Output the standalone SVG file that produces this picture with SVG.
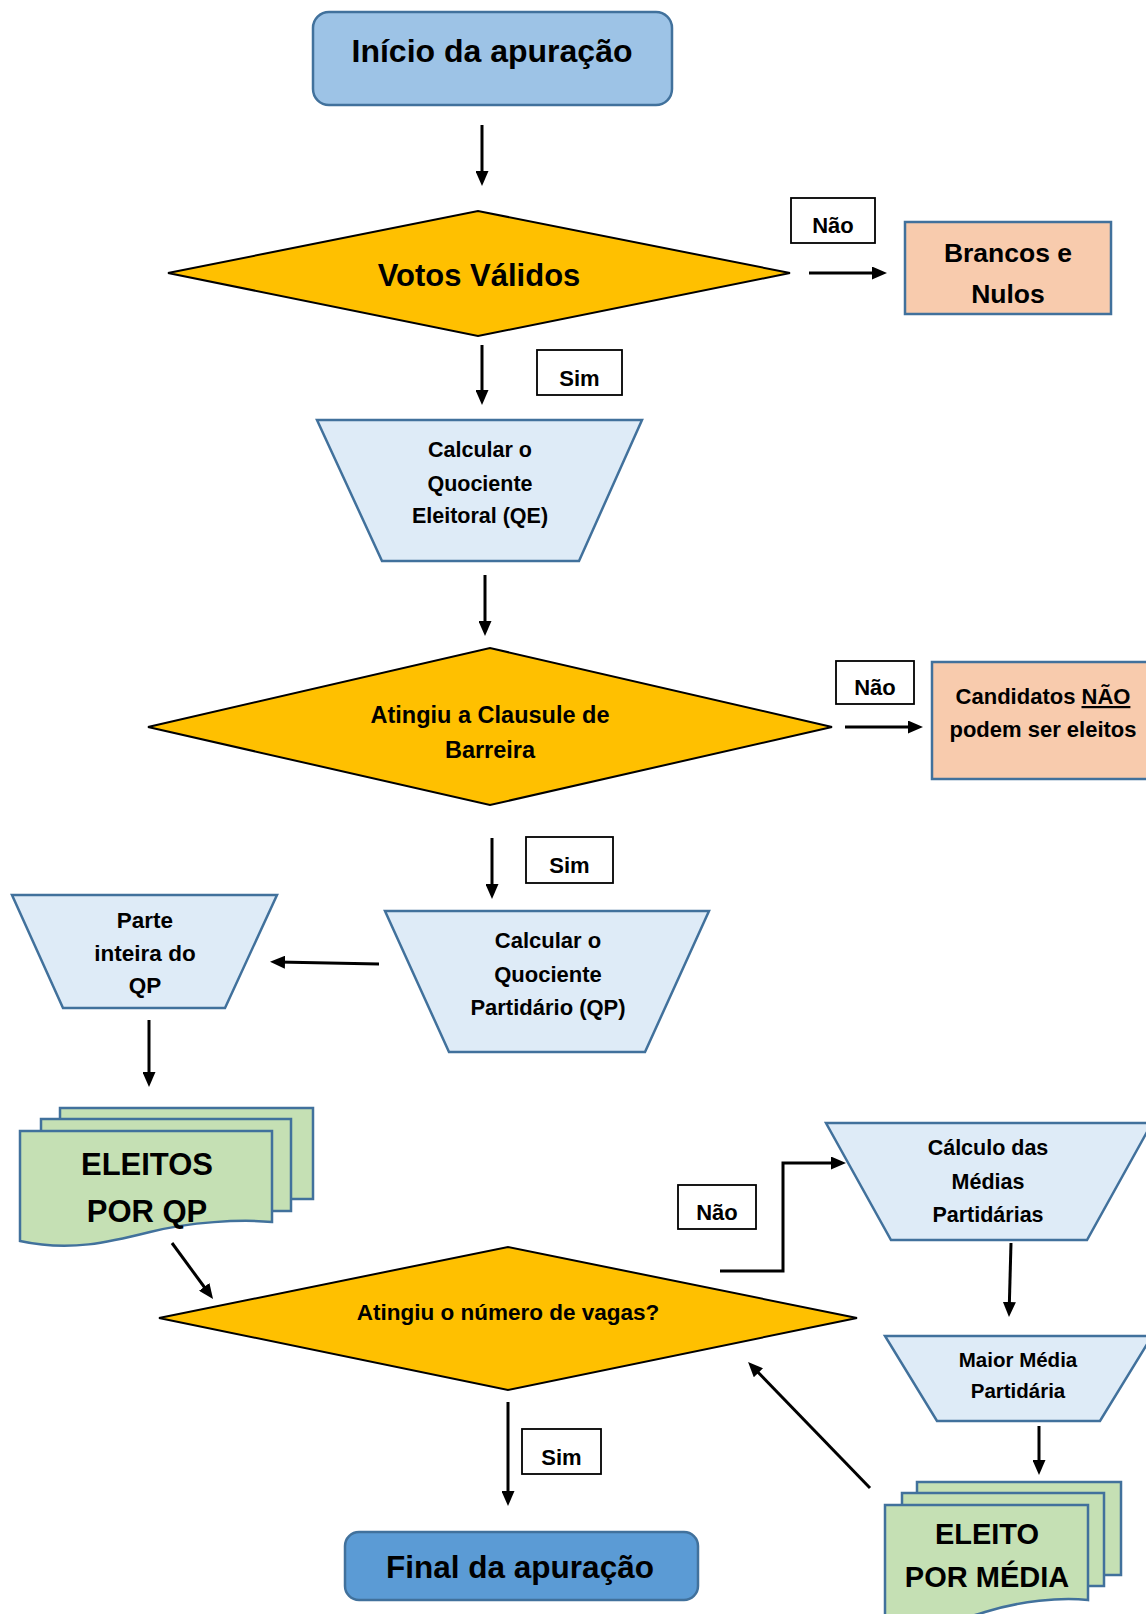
<svg xmlns="http://www.w3.org/2000/svg" width="1146" height="1614" viewBox="0 0 1146 1614">
<style>
text{font-family:"Liberation Sans",Arial,sans-serif;font-weight:bold;fill:#000;text-anchor:middle}
.term1{fill:#9DC3E6;stroke:#41719C;stroke-width:2.5}
.term2{fill:#5B9BD5;stroke:#41719C;stroke-width:2.5}
.dec{fill:#FFC000;stroke:#000;stroke-width:2}
.trap{fill:#DEEBF7;stroke:#41719C;stroke-width:2.5}
.out{fill:#F8CBAD;stroke:#41719C;stroke-width:2.5}
.doc{fill:#C5E0B4;stroke:#41719C;stroke-width:2.5}
.lbl{fill:#fff;stroke:#000;stroke-width:1.8}
.conn{fill:none;stroke:#000;stroke-width:3}
</style>
<defs>
<marker id="ah" markerUnits="userSpaceOnUse" markerWidth="15" markerHeight="13" refX="7" refY="6.5" orient="auto">
<path d="M0,0 L15,6.5 L0,13 Z" fill="#000"/>
</marker>
</defs>
<rect width="1146" height="1614" fill="#fff"/>

<g id="inicio">
<rect class="term1" x="313" y="12" width="359" height="93" rx="16"/>
<text x="492" y="62" font-size="32">Início da apuração</text>
</g>

<g id="votos-validos">
<polygon class="dec" points="168,273 478,211 790,273 478,336"/>
<text x="479" y="286" font-size="31">Votos Válidos</text>
</g>

<g id="brancos-nulos">
<rect class="out" x="905" y="222" width="206" height="92"/>
<text x="1008" y="262" font-size="26.5">Brancos e</text>
<text x="1008" y="303" font-size="26.5">Nulos</text>
</g>

<g id="calc-qe">
<polygon class="trap" points="317,420 642,420 579,561 382,561"/>
<text x="480" y="457" font-size="21.5">Calcular o</text>
<text x="480" y="491" font-size="21.5">Quociente</text>
<text x="480" y="523" font-size="21.5">Eleitoral (QE)</text>
</g>

<g id="clausula-barreira">
<polygon class="dec" points="148,727 490,648 832,727 490,805"/>
<text x="490" y="723" font-size="23.5">Atingiu a Clausule de</text>
<text x="490" y="758" font-size="23.5">Barreira</text>
</g>

<g id="candidatos-nao">
<rect class="out" x="932" y="662" width="220" height="117"/>
<text x="1043" y="704" font-size="22">Candidatos <tspan style="text-decoration:underline">NÃO</tspan></text>
<text x="1043" y="737" font-size="22">podem ser eleitos</text>
</g>

<g id="calc-qp">
<polygon class="trap" points="385,911 709,911 645,1052 449,1052"/>
<text x="548" y="948" font-size="22">Calcular o</text>
<text x="548" y="982" font-size="22">Quociente</text>
<text x="548" y="1015" font-size="22">Partidário (QP)</text>
</g>

<g id="parte-inteira">
<polygon class="trap" points="12,895 277,895 225,1008 63,1008"/>
<text x="145" y="928" font-size="22.5">Parte</text>
<text x="145" y="961" font-size="22.5">inteira do</text>
<text x="145" y="993" font-size="22.5">QP</text>
</g>

<g id="eleitos-qp">
<rect class="doc" x="60" y="1108" width="253" height="91"/>
<rect class="doc" x="41" y="1119" width="250" height="92"/>
<path class="doc" d="M20,1131 H272 V1222 C240,1219 190,1222 150,1232 C110,1242 70,1252 20,1241 Z"/>
<text x="147" y="1175" font-size="31">ELEITOS</text>
<text x="147" y="1222" font-size="31">POR QP</text>
</g>

<g id="numero-vagas">
<polygon class="dec" points="159,1318 508,1247 857,1318 508,1390"/>
<text x="508" y="1320" font-size="22.5">Atingiu o número de vagas?</text>
</g>

<g id="calc-medias">
<polygon class="trap" points="826,1123 1152,1123 1087,1240 891,1240"/>
<text x="988" y="1155" font-size="21.5">Cálculo das</text>
<text x="988" y="1189" font-size="21.5">Médias</text>
<text x="988" y="1222" font-size="21.5">Partidárias</text>
</g>

<g id="maior-media">
<polygon class="trap" points="885,1336 1152,1336 1100,1421 937,1421"/>
<text x="1018" y="1367" font-size="20.5">Maior Média</text>
<text x="1018" y="1398" font-size="20.5">Partidária</text>
</g>

<g id="eleito-media">
<rect class="doc" x="917" y="1482" width="204" height="93"/>
<rect class="doc" x="902" y="1493" width="202" height="93"/>
<path class="doc" d="M885,1505 H1088 V1600 C1060,1597 1020,1601 985,1612 C950,1623 915,1630 885,1626 Z"/>
<text x="987" y="1544" font-size="29">ELEITO</text>
<text x="987" y="1587" font-size="29">POR MÉDIA</text>
</g>

<g id="final">
<rect class="term2" x="345" y="1532" width="353" height="68" rx="14"/>
<text x="520" y="1578" font-size="31.5">Final da apuração</text>
</g>

<g id="labels">
<rect class="lbl" x="791" y="198" width="84" height="45"/>
<text x="833" y="233" font-size="22">Não</text>
<rect class="lbl" x="537" y="350" width="85" height="45"/>
<text x="579.5" y="386" font-size="22">Sim</text>
<rect class="lbl" x="836" y="661" width="78" height="43"/>
<text x="875" y="695" font-size="22">Não</text>
<rect class="lbl" x="526" y="837" width="87" height="46"/>
<text x="569.5" y="873" font-size="22">Sim</text>
<rect class="lbl" x="678" y="1185" width="78" height="44"/>
<text x="717" y="1220" font-size="22">Não</text>
<rect class="lbl" x="522" y="1429" width="79" height="45"/>
<text x="561.5" y="1465" font-size="22">Sim</text>
</g>

<g id="connectors">
<line class="conn" x1="482" y1="125" x2="482" y2="178" marker-end="url(#ah)"/>
<line class="conn" x1="809" y1="273" x2="879" y2="273" marker-end="url(#ah)"/>
<line class="conn" x1="482" y1="345" x2="482" y2="397" marker-end="url(#ah)"/>
<line class="conn" x1="485" y1="575" x2="485" y2="628" marker-end="url(#ah)"/>
<line class="conn" x1="845" y1="727" x2="915" y2="727" marker-end="url(#ah)"/>
<line class="conn" x1="492" y1="838" x2="492" y2="891" marker-end="url(#ah)"/>
<line class="conn" x1="379" y1="964" x2="278" y2="962" marker-end="url(#ah)"/>
<line class="conn" x1="149" y1="1020" x2="149" y2="1079" marker-end="url(#ah)"/>
<line class="conn" x1="172" y1="1243" x2="208.3" y2="1292.5" marker-end="url(#ah)"/>
<polyline class="conn" points="720,1271 783,1271 783,1163 838,1163" marker-end="url(#ah)"/>
<line class="conn" x1="1011" y1="1243" x2="1009.2" y2="1309" marker-end="url(#ah)"/>
<line class="conn" x1="1039" y1="1426" x2="1039" y2="1467" marker-end="url(#ah)"/>
<line class="conn" x1="870" y1="1488" x2="753.6" y2="1367.7" marker-end="url(#ah)"/>
<line class="conn" x1="508" y1="1402" x2="508" y2="1498" marker-end="url(#ah)"/>
</g>
</svg>
